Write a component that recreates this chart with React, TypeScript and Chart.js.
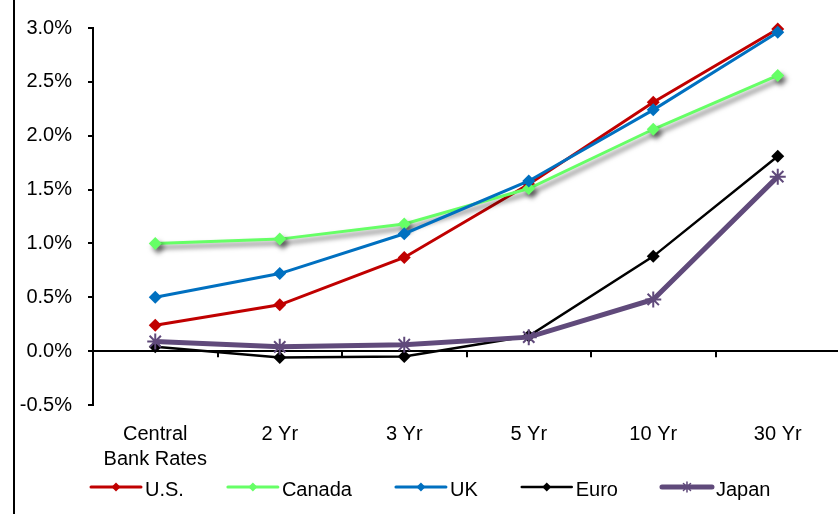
import React, { useEffect, useRef } from 'react';
import { Chart, registerables } from 'chart.js';

Chart.register(...registerables);

const categories: (string | string[])[] = [['Central', 'Bank Rates'], '2 Yr', '3 Yr', '5 Yr', '10 Yr', '30 Yr'];
const usValues = [0.24, 0.43, 0.87, 1.55, 2.31, 2.99];
const canadaValues = [1.0, 1.04, 1.18, 1.51, 2.06, 2.56];
const ukValues = [0.5, 0.72, 1.09, 1.58, 2.24, 2.96];
const euroValues = [0.04, -0.06, -0.05, 0.14, 0.88, 1.81];
const japanValues = [0.09, 0.04, 0.06, 0.13, 0.48, 1.62];

const seriesNames = ['U.S.', 'Canada', 'UK', 'Euro', 'Japan'];
const seriesColors = ['#C00000', '#66FF66', '#0070C0', '#000000', '#604A7B'];
const seriesWidths = [3, 3, 3, 2.5, 5];
const seriesMarkers = ['rectRot', 'rectRot', 'rectRot', 'rectRot', 'star'];

const yMin = -0.5;
const yMax = 3.0;
const yStep = 0.5;

const FONT = '"Liberation Sans", Arial, sans-serif';

function drawDiamond(ctx: CanvasRenderingContext2D, x: number, y: number, r: number, color: string) {
  ctx.beginPath();
  ctx.moveTo(x, y - r);
  ctx.lineTo(x + r, y);
  ctx.lineTo(x, y + r);
  ctx.lineTo(x - r, y);
  ctx.closePath();
  ctx.fillStyle = color;
  ctx.fill();
}

function drawStar(ctx: CanvasRenderingContext2D, x: number, y: number, r: number, color: string) {
  ctx.beginPath();
  const d = r * Math.SQRT1_2;
  ctx.moveTo(x - d, y - d);
  ctx.lineTo(x + d, y + d);
  ctx.moveTo(x + d, y - d);
  ctx.lineTo(x - d, y + d);
  ctx.moveTo(x, y - r);
  ctx.lineTo(x, y + r);
  ctx.strokeStyle = color;
  ctx.lineWidth = 1.5;
  ctx.stroke();
}

const decorPlugin = {
  id: 'decor',
  beforeDatasetDraw(chart: any, args: any) {
    const ctx = chart.ctx;
    ctx.save();
    if (args.index === 1) {
      ctx.shadowColor = 'rgba(0,0,0,0.55)';
      ctx.shadowBlur = 5;
      ctx.shadowOffsetX = 3;
      ctx.shadowOffsetY = 4;
    }
  },
  afterDatasetDraw(chart: any) {
    chart.ctx.restore();
  },
  beforeDatasetsDraw(chart: any) {
    const ctx = chart.ctx;
    const xs = chart.scales.x;
    const ys = chart.scales.y;
    const y0 = ys.getPixelForValue(0);
    ctx.save();
    ctx.strokeStyle = '#000';
    ctx.lineWidth = 2;
    for (let i = 0; i < categories.length - 1; i++) {
      const bx = Math.round((xs.getPixelForValue(i) + xs.getPixelForValue(i + 1)) / 2);
      ctx.beginPath();
      ctx.moveTo(bx, y0);
      ctx.lineTo(bx, y0 + 6);
      ctx.stroke();
    }
    ctx.restore();
  },
  afterDraw(chart: any) {
    const ctx = chart.ctx;
    ctx.save();
    // left frame line
    ctx.fillStyle = '#000';
    ctx.fillRect(13, 0, 2, chart.height);
    // legend
    ctx.font = `20px ${FONT}`;
    ctx.textBaseline = 'middle';
    ctx.textAlign = 'left';
    let x = 91;
    const ly = 487;
    for (let i = 0; i < seriesNames.length; i++) {
      const color = seriesColors[i];
      ctx.strokeStyle = color;
      ctx.lineWidth = seriesWidths[i];
      ctx.lineCap = 'round';
      ctx.beginPath();
      ctx.moveTo(x, ly);
      ctx.lineTo(x + 50, ly);
      ctx.stroke();
      if (seriesMarkers[i] === 'star') drawStar(ctx, x + 25, ly, 5, color);
      else drawDiamond(ctx, x + 25, ly, 4.5, color);
      ctx.fillStyle = '#000';
      ctx.fillText(seriesNames[i], x + 54, ly + 3);
      x += 54 + ctx.measureText(seriesNames[i]).width + 44;
    }
    ctx.restore();
  },
};

export default function App() {
  const ref = useRef<HTMLCanvasElement | null>(null);
  useEffect(() => {
    if (!ref.current) return;
    const allValues = [usValues, canadaValues, ukValues, euroValues, japanValues];
    const chart = new Chart(ref.current, {
      type: 'line',
      data: {
        labels: categories,
        datasets: allValues.map((vals, i) => ({
          label: seriesNames[i],
          data: vals,
          borderColor: seriesColors[i],
          backgroundColor: seriesColors[i],
          borderWidth: seriesWidths[i],
          pointStyle: seriesMarkers[i] as any,
          pointRadius: seriesMarkers[i] === 'star' ? 8 : 6.5,
          pointBorderWidth: seriesMarkers[i] === 'star' ? 2 : 0,
          pointBorderColor: seriesColors[i],
          pointBackgroundColor: seriesColors[i],
          tension: 0,
          fill: false,
          clip: false as any,
          order: 4 - i,
        })),
      },
      options: {
        responsive: false,
        animation: false,
        layout: { padding: { top: 26, right: 7, left: 0, bottom: 0 } },
        plugins: { legend: { display: false }, tooltip: { enabled: false } },
        scales: {
          x: {
            offset: true,
            grid: { display: false, drawTicks: false },
            border: { display: false },
            ticks: {
              color: '#000',
              font: { family: FONT, size: 20, lineHeight: 1.25 },
              padding: 17,
              maxRotation: 0,
              autoSkip: false,
            },
            afterFit: (s: any) => { s.height = 109; },
          },
          y: {
            min: yMin,
            max: yMax,
            grid: {
              color: (c: any) => (c.tick && c.tick.value === 0 ? '#000' : 'rgba(0,0,0,0)'),
              lineWidth: 2,
              tickColor: '#000',
              tickWidth: 2,
              tickLength: 5,
              drawTicks: true,
            },
            border: { display: true, color: '#000', width: 2 },
            ticks: {
              stepSize: yStep,
              color: '#000',
              font: { family: FONT, size: 20 },
              padding: 16,
              callback: (v: any) => `${Number(v).toFixed(1)}%`,
            },
            afterFit: (s: any) => { s.width = 93; },
          },
        },
      },
      plugins: [decorPlugin],
    });
    return () => chart.destroy();
  }, []);
  return (
    <div style={{ position: 'fixed', left: 0, top: 0, width: 838, height: 514, overflow: 'hidden', background: '#fff' }}>
      <canvas ref={ref} width={850} height={514} style={{ display: 'block', width: 850, height: 514 }} />
    </div>
  );
}
